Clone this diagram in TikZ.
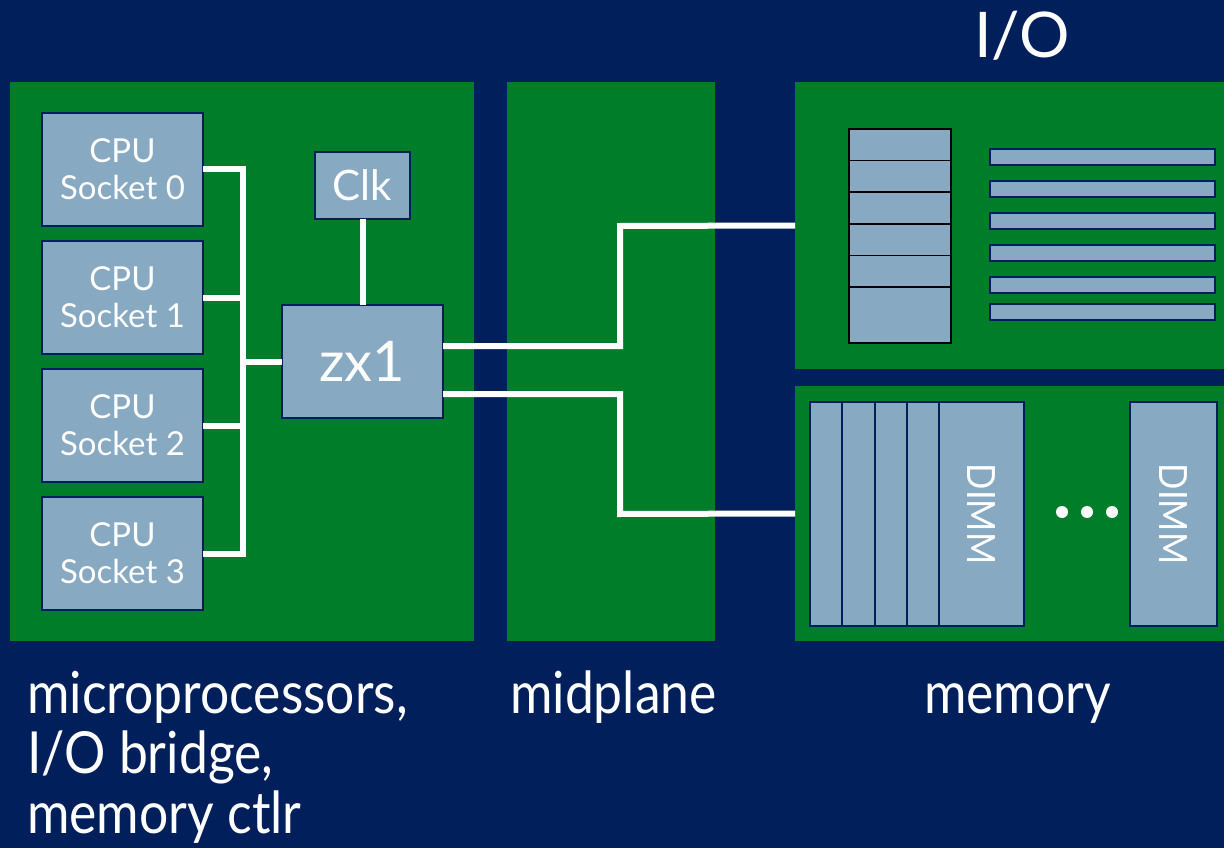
\documentclass[tikz,border=0pt]{standalone}
\usepackage{fontspec}
\setmainfont{Lato}
\newfontfamily\narrowfont{Lato}[FakeStretch=0.89]
\usepackage{graphicx}
\usetikzlibrary{positioning}
\definecolor{navy}{RGB}{0,31,91}
\definecolor{board}{RGB}{0,125,40}
\definecolor{chip}{RGB}{135,169,194}
\newcommand{\cpufont}{\fontsize{33}{37}\selectfont}
\newcommand{\clkfont}{\fontsize{42}{46}\selectfont}
\newcommand{\bridgefont}{\fontsize{56}{60}\selectfont}
\newcommand{\dimmfont}{\narrowfont\fontsize{39}{42}\selectfont}
\newcommand{\captionfont}{\narrowfont\fontsize{58}{60}\selectfont}
\newcommand{\titlefont}{\fontsize{63}{66}\selectfont}
\tikzset{
    panel/.style={fill=board, inner sep=0pt, outer sep=0pt},
    chipbox/.style={fill=chip, draw=navy, line width=2.5pt, text=white, inner sep=0pt, outer sep=0pt, align=center},
    cpu/.style={chipbox, minimum width=161pt, minimum height=113pt, font=\cpufont},
    slot/.style={fill=chip, draw=black, line width=1.5pt, minimum width=102pt, minimum height=31.6pt, inner sep=0pt, outer sep=0pt},
    card/.style={fill=chip, draw=navy, line width=2pt, minimum width=225pt, minimum height=16pt, inner sep=0pt, outer sep=0pt},
    stick/.style={chipbox, line width=2pt, minimum width=32.25pt, minimum height=224pt},
    dot/.style={circle, fill=white, minimum size=12pt, inner sep=0pt},
    wire/.style={draw=white, line width=6pt},
    caption/.style={text=white, inner sep=0pt, align=left, font=\captionfont},
}

\begin{document}
\begin{tikzpicture}[x=1pt, y=-1pt, node distance=15pt]
    \fill[navy] (0,0) rectangle (1224,848);
    \useasboundingbox (0,0) rectangle (1224,848);

    % boards
    \node[panel, minimum width=464pt, minimum height=559pt] (cpuboard) at (242,361.5) {};
    \node[panel, minimum width=208pt, minimum height=559pt] (midplane) at (611,361.5) {};
    \node[panel, minimum width=429pt, minimum height=287pt] (ioboard) at (1009.5,225.5) {};
    \node[panel, minimum width=429pt, minimum height=255pt] (memboard) at (1009.5,513.5) {};

    % cpu board
    \node[cpu] (cpu0) at (122.5,169.5) {CPU\\Socket 0};
    \node[cpu, below=of cpu0] (cpu1) {CPU\\Socket 1};
    \node[cpu, below=of cpu1] (cpu2) {CPU\\Socket 2};
    \node[cpu, below=of cpu2] (cpu3) {CPU\\Socket 3};
    \node[chipbox, minimum width=95pt, minimum height=67pt, font=\clkfont] (clk) at (362.5,185.5) {Clk};
    \node[chipbox, minimum width=161pt, minimum height=113pt, font=\bridgefont] (zx1) at (362.5,361.5) {zx1};

    \coordinate (bus) at (243,361.5);
    \foreach \i in {0,...,3}
        \draw[wire] (cpu\i.east) -| (bus);
    \draw[wire] (bus) -- (zx1.west);
    \draw[wire] (clk) -- (zx1);
    \draw[wire] ([yshift=15.5pt]zx1.east) -| (620,226) -- (ioboard.west);
    \draw[wire] ([yshift=-32.5pt]zx1.east) -| (620,514) -- (memboard.west);

    % i/o board
    \node[slot] (slot1) at (900,144.8) {};
    \foreach \i [remember=\i as \last (initially 1)] in {2,...,5}
        \node[slot, below=0pt of slot\last] (slot\i) {};
    \node[slot, minimum height=56pt, below=0pt of slot5] (slot6) {};
    \foreach \y [count=\i] in {157,189,221,253,285,312}
        \node[card] (card\i) at (1102.5,\y) {};

    % memory board
    \node[stick] (stick1) at (826.125,514) {};
    \foreach \i [remember=\i as \last (initially 1)] in {2,3,4}
        \node[stick, right=0pt of stick\last] (stick\i) {};
    \node[stick, minimum width=85pt, right=0pt of stick4, font=\dimmfont] (dimm1) {\rotatebox{-90}{DIMM}};
    \node[stick, minimum width=87pt, font=\dimmfont] (dimm2) at (1173.5,514) {\rotatebox{-90}{DIMM}};
    \foreach \x [count=\i] in {1062,1087,1112}
        \node[dot] (dot\i) at (\x,512) {};

    % captions
    \node[caption, anchor=base, font=\titlefont] (iolabel) at (1022,58) {I/O};
    \node[caption, anchor=base west] (cpulabel) at (27,833) {microprocessors,\\I/O bridge,\\memory ctlr};
    \node[caption, anchor=base west] (midlabel) at (510,713) {midplane};
    \node[caption, anchor=base west] (memlabel) at (924,713) {memory};
\end{tikzpicture}
\end{document}
